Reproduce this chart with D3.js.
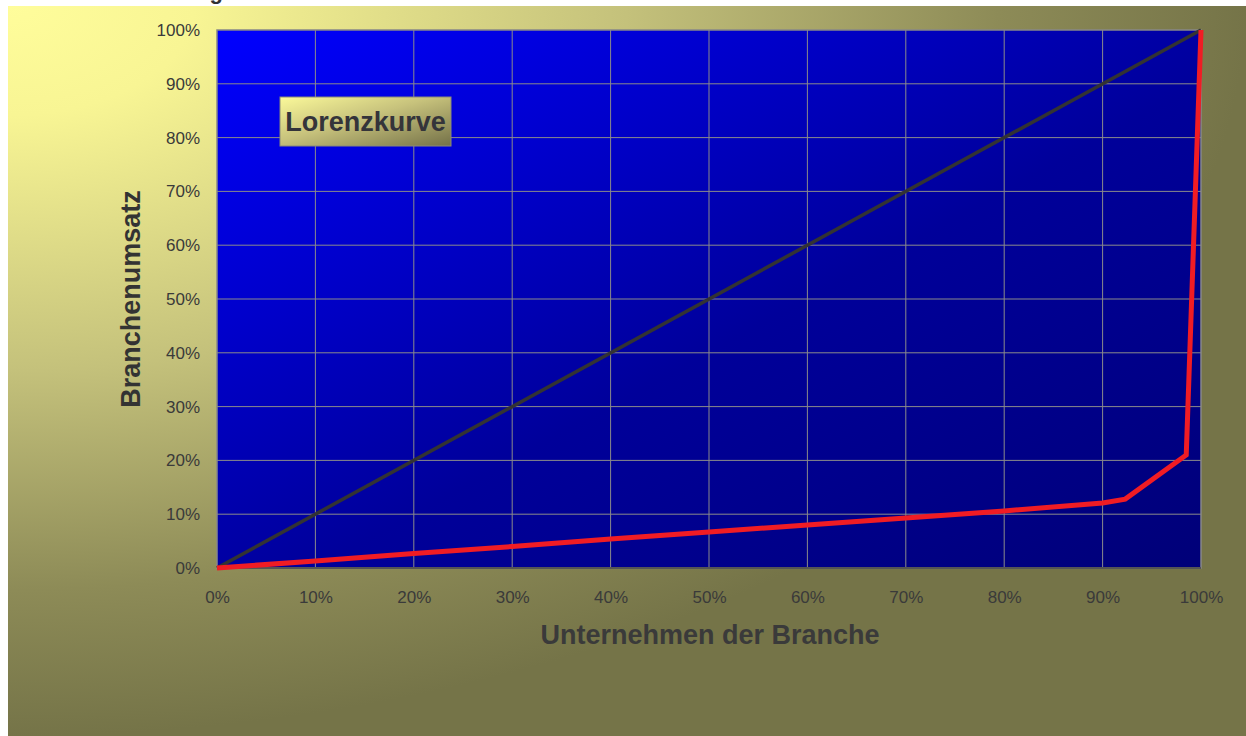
<!DOCTYPE html>
<html>
<head>
<meta charset="utf-8">
<script src="https://cdn.jsdelivr.net/npm/d3@7"></script>
<style>
  body { margin: 0; background: #fff; }
  text { font-family: "Liberation Sans", Arial, sans-serif; }
</style>
</head>
<body>
<script>
var width = 1246;
var height = 736;
var plot = { left: 217, top: 30, right: 1201, bottom: 568 };

// Lorenz curve: cumulative share of firms vs cumulative share of revenue
var firmShare = [0, 0.1, 0.2, 0.3, 0.4, 0.5, 0.6, 0.7, 0.8, 0.9, 0.923, 0.985, 1.0];
var revenueShare = [0, 0.013, 0.027, 0.04, 0.054, 0.067, 0.08, 0.093, 0.106, 0.121, 0.128, 0.21, 1.0];
var equalShare = [0, 1];
var ticks = [0, 0.1, 0.2, 0.3, 0.4, 0.5, 0.6, 0.7, 0.8, 0.9, 1.0];

var svg = d3.select('body')
            .append('svg')
            .attr('width', width)
            .attr('height', height);

var defs = svg.append('defs');

// elliptical fade from the top-left corner
var bg = defs.append('radialGradient')
    .attr('id', 'bg')
    .attr('cx', 0).attr('cy', 0).attr('r', 1)
    .attr('fx', 0).attr('fy', 0);
bg.append('stop').attr('offset', '0%').attr('stop-color', '#fffd9b');
bg.append('stop').attr('offset', '15%').attr('stop-color', '#f8f594');
bg.append('stop').attr('offset', '50%').attr('stop-color', '#c4c17b');
bg.append('stop').attr('offset', '80%').attr('stop-color', '#8d8b57');
bg.append('stop').attr('offset', '100%').attr('stop-color', '#757448');

var pg = defs.append('linearGradient')
    .attr('id', 'pg')
    .attr('x1', 0).attr('y1', 0).attr('x2', 1).attr('y2', 1);
pg.append('stop').attr('offset', '0%').attr('stop-color', '#0000ff');
pg.append('stop').attr('offset', '55%').attr('stop-color', '#00009a');
pg.append('stop').attr('offset', '100%').attr('stop-color', '#000078');

var lg = defs.append('linearGradient')
    .attr('id', 'lg')
    .attr('x1', 0).attr('y1', 0).attr('x2', 1).attr('y2', 1);
lg.append('stop').attr('offset', '0%').attr('stop-color', '#fbf99a');
lg.append('stop').attr('offset', '45%').attr('stop-color', '#c7c27c');
lg.append('stop').attr('offset', '100%').attr('stop-color', '#747148');

// page background
svg.append('rect')
    .attr('x', 8).attr('y', 6)
    .attr('width', width - 8).attr('height', height - 6)
    .attr('fill', 'url(#bg)');

// title, cut off at the top edge as in the original
svg.append('text')
    .attr('x', 223).attr('y', -1)
    .attr('text-anchor', 'end')
    .attr('font-size', 22).attr('font-weight', 'bold')
    .attr('fill', '#333')
    .text('Darstellung');

var xScale = d3.scaleLinear().domain([0, 1]).range([plot.left, plot.right]);
var yScale = d3.scaleLinear().domain([0, 1]).range([plot.bottom, plot.top]);

svg.append('rect')
    .attr('x', plot.left).attr('y', plot.top)
    .attr('width', plot.right - plot.left).attr('height', plot.bottom - plot.top)
    .attr('fill', 'url(#pg)')
    .attr('stroke', '#888')
    .attr('stroke-width', 1.5);

var grid = svg.append('g');
grid.selectAll('.vg')
    .data(ticks.slice(1, -1))
    .enter().append('line')
    .attr('x1', function (d) { return xScale(d); })
    .attr('x2', function (d) { return xScale(d); })
    .attr('y1', plot.top).attr('y2', plot.bottom)
    .attr('stroke', '#8a8a8a').attr('stroke-width', 1);
grid.selectAll('.hg')
    .data(ticks.slice(1, -1))
    .enter().append('line')
    .attr('y1', function (d) { return yScale(d); })
    .attr('y2', function (d) { return yScale(d); })
    .attr('x1', plot.left).attr('x2', plot.right)
    .attr('stroke', '#8a8a8a').attr('stroke-width', 1);

svg.append('line')
    .attr('x1', plot.left).attr('x2', plot.right)
    .attr('y1', plot.bottom).attr('y2', plot.bottom)
    .attr('stroke', '#555').attr('stroke-width', 2);

var fmt = d3.format('.0%');

var yAxis = svg.append('g')
    .attr('transform', 'translate(' + (plot.left - 14) + ',0)')
    .call(d3.axisLeft(yScale).tickValues(ticks).tickFormat(fmt).tickSize(0));
yAxis.select('.domain').remove();
yAxis.selectAll('text').attr('font-size', 17).attr('fill', '#3a3a3a').attr('dy', '0.32em');

var xAxis = svg.append('g')
    .attr('transform', 'translate(0,' + (plot.bottom + 20) + ')')
    .call(d3.axisBottom(xScale).tickValues(ticks).tickFormat(fmt).tickSize(0));
xAxis.select('.domain').remove();
xAxis.selectAll('text').attr('font-size', 17).attr('fill', '#3a3a3a');

var line = d3.line()
    .x(function (d) { return xScale(d[0]); })
    .y(function (d) { return yScale(d[1]); });

svg.append('path')
    .datum(equalShare.map(function (d) { return [d, d]; }))
    .attr('d', line)
    .attr('fill', 'none')
    .attr('stroke', '#333')
    .attr('stroke-width', 3.5);

svg.append('path')
    .datum(firmShare.map(function (d, i) { return [d, revenueShare[i]]; }))
    .attr('d', line)
    .attr('fill', 'none')
    .attr('stroke', '#f01c24')
    .attr('stroke-width', 5)
    .attr('stroke-linejoin', 'miter');

// label box
svg.append('rect')
    .attr('x', 280).attr('y', 97)
    .attr('width', 171).attr('height', 49)
    .attr('fill', 'url(#lg)')
    .attr('stroke', '#8a8a7a').attr('stroke-width', 1);
svg.append('text')
    .attr('x', 365.5).attr('y', 131)
    .attr('text-anchor', 'middle')
    .attr('font-size', 27).attr('font-weight', 'bold')
    .attr('fill', '#34343a')
    .text('Lorenzkurve');

// axis titles
svg.append('text')
    .attr('transform', 'translate(140,299) rotate(-90)')
    .attr('text-anchor', 'middle')
    .attr('font-size', 27).attr('font-weight', 'bold')
    .attr('fill', '#333')
    .text('Branchenumsatz');

svg.append('text')
    .attr('x', 710).attr('y', 644)
    .attr('text-anchor', 'middle')
    .attr('font-size', 27).attr('font-weight', 'bold')
    .attr('fill', '#3a3a3a')
    .text('Unternehmen der Branche');
</script>
</body>
</html>
